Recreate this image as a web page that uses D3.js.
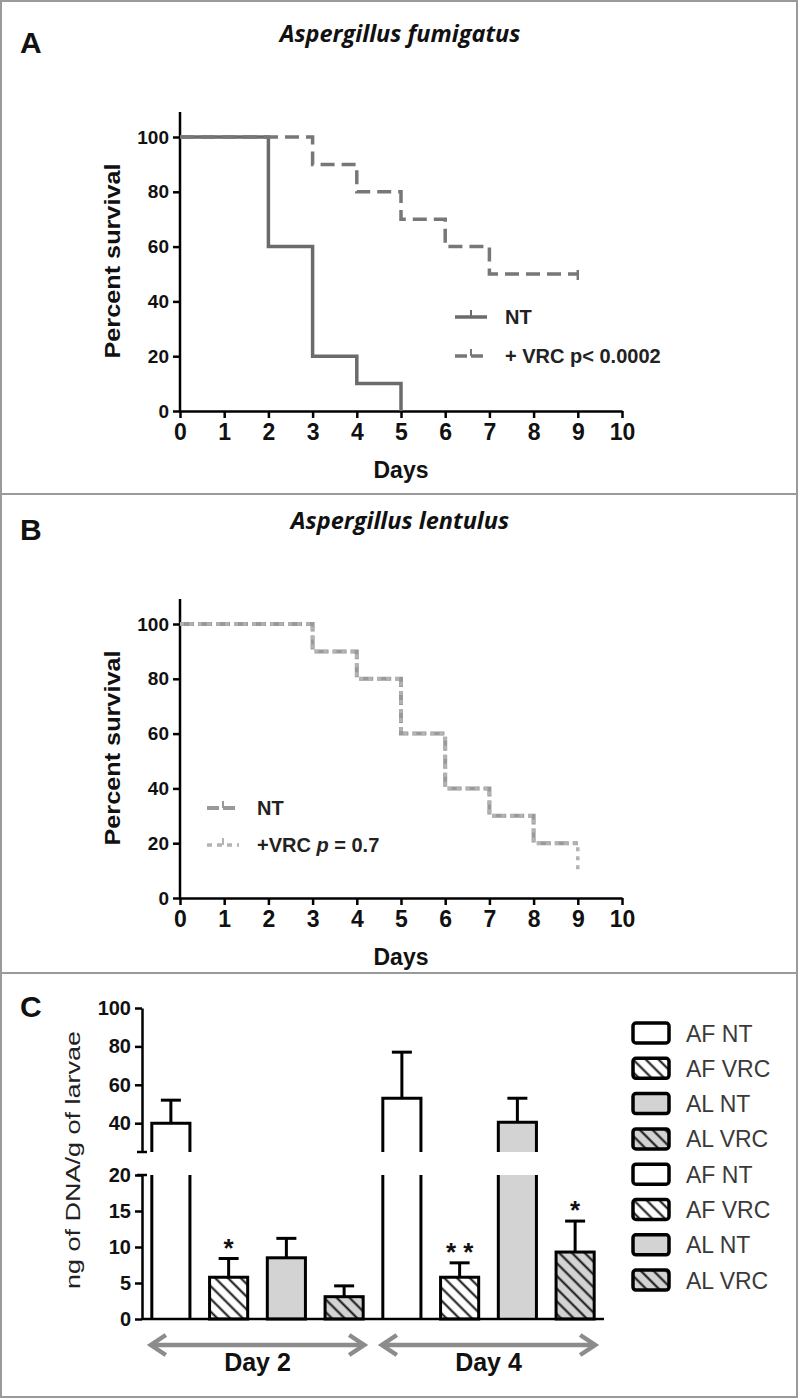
<!DOCTYPE html>
<html><head><meta charset="utf-8">
<script src="https://cdn.jsdelivr.net/npm/d3@7"></script>
<style>body{margin:0;background:#fff} svg{display:block}</style>
</head><body><svg id="c" width="799" height="1399"></svg>
<script>
// ---------- DATA ----------
const days = [0,1,2,3,4,5,6,7,8,9,10];
const survTicks = [0,20,40,60,80,100];
// Panel A: Aspergillus fumigatus
const afNTTimes  = [0,2,3,4,5];
const afNTSurv   = [100,60,20,10,0];
const afVRCTimes = [0,3,4,5,6,7,9];
const afVRCSurv  = [100,90,80,70,60,50,50];
// Panel B: Aspergillus lentulus
const alNTTimes  = [0,3,4,5,6,7,8,9];
const alNTSurv   = [100,90,80,60,40,30,20,20];
const alVRCTimes = [0,3,4,5,6,7,8,9];
const alVRCSurv  = [100,90,80,60,40,30,20,10];
// Panel C: fungal burden
const barGroups  = ["Day 2","Day 4"];
const barSeries  = ["AF NT","AF VRC","AL NT","AL VRC"];
const barMeans   = [[40,5.8,8.5,3.1],[53,5.8,40.5,9.3]];
const barUpper   = [[52,8.4,11.2,4.6],[77,7.8,53,13.6]];
const barStars   = [["","*","",""],["","**","","*"]];
const lowTicks   = [0,5,10,15,20];
const highTicks  = [40,60,80,100];
const legendLabels = ["AF NT","AF VRC","AL NT","AL VRC","AF NT","AF VRC","AL NT","AL VRC"];

// ---------- SETUP ----------
const svg = d3.select("#c");
const BOLD = "'Liberation Sans', Arial, sans-serif";
const NARROW = "'Liberation Sans Narrow', 'Liberation Sans', Arial, sans-serif";

const defs = svg.append("defs");
defs.append("pattern").attr("id","hatch").attr("patternUnits","userSpaceOnUse")
  .attr("width",9).attr("height",9).attr("patternTransform","rotate(-45)")
  .append("line").attr("x1",4.5).attr("y1",-1).attr("x2",4.5).attr("y2",10)
  .attr("stroke","#111").attr("stroke-width",2);

// frame
svg.append("rect").attr("x",1).attr("y",1).attr("width",796).attr("height",1396)
  .attr("fill","none").attr("stroke","#9a9a9a").attr("stroke-width",2);
[494,973].forEach(y=>svg.append("line").attr("x1",1).attr("x2",797).attr("y1",y).attr("y2",y)
  .attr("stroke","#9a9a9a").attr("stroke-width",2));

// ---------- SURVIVAL PANELS ----------
function survivalPanel(o){
  const g = svg.append("g");
  const x = d3.scaleLinear().domain([0,10]).range([180,622]);
  const y = d3.scaleLinear().domain([0,100]).range([o.y0, o.y0-274]);
  g.append("text").attr("x",20).attr("y",o.y0-358).text(o.letter)
    .attr("font-family",BOLD).attr("font-weight","bold").attr("font-size",30).attr("fill","#111");
  g.append("text").attr("x",400).attr("y",o.y0-369).attr("text-anchor","middle").text(o.title)
    .attr("font-family","'Open Sans', sans-serif").attr("font-style","italic").attr("font-weight","bold")
    .attr("font-size",23.5).attr("fill","#111");
  // axes
  const ya = g.append("g").attr("transform","translate(180,0)")
    .call(d3.axisLeft(y).tickValues(survTicks).tickSize(7).tickSizeOuter(0).tickPadding(4));
  ya.select(".domain").remove();
  g.append("line").attr("x1",180).attr("x2",180).attr("y1",o.y0-299).attr("y2",o.y0)
    .attr("stroke","#000").attr("stroke-width",2.5);
  const xa = g.append("g").attr("transform",`translate(0,${o.y0})`)
    .call(d3.axisBottom(x).tickValues(days).tickSize(7).tickSizeOuter(0).tickPadding(6));
  xa.select(".domain").attr("stroke-width",2.5);
  [ya,xa].forEach(a=>a.selectAll(".tick line").attr("stroke-width",2.5));
  ya.selectAll("text").attr("font-family",BOLD).attr("font-weight","bold").attr("font-size",19).attr("fill","#111");
  xa.selectAll("text").attr("font-family",NARROW).attr("font-weight","bold").attr("font-size",23).attr("fill","#111");
  g.append("text").attr("x",401).attr("y",o.y0+67).attr("text-anchor","middle").text("Days")
    .attr("font-family",BOLD).attr("font-weight","bold").attr("font-size",23).attr("fill","#111");
  g.append("text").attr("transform",`translate(120,${o.y0-150}) rotate(-90)`).attr("text-anchor","middle")
    .text("Percent survival").attr("font-family",BOLD).attr("font-weight","bold").attr("font-size",22)
    .attr("textLength",195).attr("lengthAdjust","spacingAndGlyphs").attr("fill","#111");
  // curves
  const line = d3.line().x(d=>x(d[0])).y(d=>y(d[1])).curve(d3.curveStepAfter);
  o.series.forEach(s=>{
    const pts = s.t.map((t,i)=>[t,s.v[i]]);
    g.append("path").attr("d",line(pts)).attr("fill","none").attr("stroke",s.color)
      .attr("stroke-width",s.w).attr("stroke-dasharray",s.dash);
    if (s.censor) {
      const last = pts[pts.length-1];
      g.append("line").attr("x1",x(last[0])).attr("x2",x(last[0])).attr("y1",y(last[1])-4).attr("y2",y(last[1])+6)
        .attr("stroke",s.color).attr("stroke-width",2.5);
    }
  });
  // legend
  o.series.forEach((s,i)=>{
    const ly = o.legY + i*o.legGap;
    g.append("line").attr("x1",o.legX).attr("x2",o.legX+32).attr("y1",ly).attr("y2",ly)
      .attr("stroke",s.color).attr("stroke-width",s.w).attr("stroke-dasharray",s.legDash);
    g.append("line").attr("x1",o.legX+16).attr("x2",o.legX+16).attr("y1",ly-7).attr("y2",ly)
      .attr("stroke",s.color).attr("stroke-width",2);
    const t = g.append("text").attr("x",o.legX+50).attr("y",ly+7)
      .attr("font-family",NARROW).attr("font-weight","bold").attr("font-size",20).attr("fill","#222");
    s.label.forEach(p=>t.append("tspan").text(p.t).attr("font-style",p.i?"italic":null));
  });
}

survivalPanel({
  letter:"A", title:"Aspergillus fumigatus", y0:411, legX:455, legY:317, legGap:39,
  series:[
    {t:afNTTimes, v:afNTSurv, color:"#6b6b6b", w:3.5, dash:null, legDash:null, label:[{t:"NT"}]},
    {t:afVRCTimes, v:afVRCSurv, color:"#777", w:3.5, dash:"14,7", legDash:"12,4", censor:true,
     label:[{t:"+ VRC p< 0.0002"}]}
  ]
});
survivalPanel({
  letter:"B", title:"Aspergillus lentulus", y0:898, legX:207, legY:808, legGap:37,
  series:[
    {t:alNTTimes, v:alNTSurv, color:"#999", w:4, dash:"14,4", legDash:"12,4", label:[{t:"NT"}]},
    {t:alVRCTimes, v:alVRCSurv, color:"#b3b3b3", w:3.5, dash:"4,5", legDash:"5,5",
     label:[{t:"+VRC  "},{t:"p",i:true},{t:" = 0.7"}]}
  ]
});

// ---------- BAR PANEL C ----------
const gc = svg.append("g");
gc.append("text").attr("x",20).attr("y",1017).text("C")
  .attr("font-family",BOLD).attr("font-weight","bold").attr("font-size",30).attr("fill","#111");
const nBars = barGroups.length*barSeries.length;
const xC = d3.scaleBand().domain(d3.range(nBars)).range([142,604]).paddingInner(0.34).paddingOuter(0.17);
const yLow = d3.scaleLinear().domain([0,20]).range([1319,1175]);
const yHigh = d3.scaleLinear().domain([25,100]).range([1152,1008]);
const fills = ["#fff","#fff","#d3d3d3","#d3d3d3"];
const hatched = [false,true,false,true];
const bw = xC.bandwidth();

const bars = [];
barGroups.forEach((gname,gi)=>barSeries.forEach((s,si)=>bars.push({
  i:gi*barSeries.length+si, si, v:barMeans[gi][si], e:barUpper[gi][si], star:barStars[gi][si]})));

const yv = v => v<=20 ? yLow(v) : yHigh(v);
bars.forEach(b=>{
  const x0 = xC(b.i), x1 = x0+bw;
  const drawFill = (ya,yb)=>{
    gc.append("rect").attr("x",x0).attr("y",ya).attr("width",bw).attr("height",yb-ya).attr("fill",fills[b.si]);
    if (hatched[b.si]) gc.append("rect").attr("x",x0).attr("y",ya).attr("width",bw).attr("height",yb-ya).attr("fill","url(#hatch)");
  };
  const top = yv(b.v), et = yv(b.e);
  gc.append("line").attr("x1",x0+bw/2).attr("x2",x0+bw/2).attr("y1",top).attr("y2",et).attr("stroke","#000").attr("stroke-width",3);
  gc.append("line").attr("x1",x0+bw/2-10).attr("x2",x0+bw/2+10).attr("y1",et).attr("y2",et).attr("stroke","#000").attr("stroke-width",3);
  if (b.v<=20){
    drawFill(yLow(b.v), yLow(0));
    gc.append("rect").attr("x",x0).attr("y",yLow(b.v)).attr("width",bw).attr("height",yLow(0)-yLow(b.v))
      .attr("fill","none").attr("stroke","#000").attr("stroke-width",3);
  } else {
    drawFill(yLow(20), yLow(0));
    drawFill(yHigh(b.v), yHigh(25));
    gc.append("path").attr("d",`M${x0},${yLow(0)}V${yLow(20)}M${x1},${yLow(20)}V${yLow(0)}`)
      .attr("fill","none").attr("stroke","#000").attr("stroke-width",3);
    gc.append("path").attr("d",`M${x0},${yHigh(25)}V${yHigh(b.v)}H${x1}V${yHigh(25)}`)
      .attr("fill","none").attr("stroke","#000").attr("stroke-width",3);
  }
  if (b.star) gc.append("text").attr("x",x0+bw/2).attr("y",et-2).attr("text-anchor","middle").text(b.star.split("").join(" "))
    .attr("font-family",BOLD).attr("font-weight","bold").attr("font-size",26).attr("fill","#111");
});

// y axes (broken)
function cAxis(scale, ticks, capY){
  const a = gc.append("g").attr("transform","translate(142,0)")
    .call(d3.axisLeft(scale).tickValues(ticks).tickSize(7).tickSizeOuter(0).tickPadding(4));
  a.select(".domain").attr("stroke-width",2.5);
  a.selectAll(".tick line").attr("stroke-width",2.5);
  a.selectAll("text").attr("font-family",BOLD).attr("font-weight","bold").attr("font-size",20).attr("fill","#111");
  gc.append("line").attr("x1",137).attr("x2",147).attr("y1",capY).attr("y2",capY).attr("stroke","#000").attr("stroke-width",2.5);
}
cAxis(yLow, lowTicks, yLow(20));
cAxis(yHigh, highTicks, yHigh(25));
gc.append("line").attr("x1",142).attr("x2",604).attr("y1",yLow(0)).attr("y2",yLow(0)).attr("stroke","#000").attr("stroke-width",2.5);
gc.append("text").attr("transform","translate(80,1160) rotate(-90)").attr("text-anchor","middle")
  .text("ng of DNA/g of larvae").attr("font-family",BOLD).attr("font-size",21)
  .attr("textLength",258).attr("lengthAdjust","spacingAndGlyphs").attr("fill","#222");

// group arrows
barGroups.forEach((gname,gi)=>{
  const a = xC(gi*4)-1, b = xC(gi*4+3)+bw+1, y = 1345;
  gc.append("line").attr("x1",a+2).attr("x2",b-2).attr("y1",y).attr("y2",y).attr("stroke","#8c8c8c").attr("stroke-width",4.5);
  gc.append("path").attr("d",`M${a+15},${y-10}L${a},${y}L${a+15},${y+10}M${b-15},${y-10}L${b},${y}L${b-15},${y+10}`)
    .attr("fill","none").attr("stroke","#8c8c8c").attr("stroke-width",4.5).attr("stroke-linejoin","miter");
  gc.append("text").attr("x",(a+b)/2).attr("y",1371).attr("text-anchor","middle").text(gname)
    .attr("font-family",BOLD).attr("font-weight","bold").attr("font-size",25).attr("fill","#111");
});

// legend C
legendLabels.forEach((lab,i)=>{
  const si = i % barSeries.length, y = 1033 + i*35.3;
  const r = {x:633, y:y-10, w:36, h:20};
  gc.append("rect").attr("x",r.x).attr("y",r.y).attr("width",r.w).attr("height",r.h).attr("rx",3).attr("fill",fills[si]);
  if (hatched[si]) gc.append("rect").attr("x",r.x).attr("y",r.y).attr("width",r.w).attr("height",r.h).attr("rx",3).attr("fill","url(#hatch)");
  gc.append("rect").attr("x",r.x).attr("y",r.y).attr("width",r.w).attr("height",r.h).attr("rx",3)
    .attr("fill","none").attr("stroke","#000").attr("stroke-width",3.5);
  gc.append("text").attr("x",686).attr("y",y+8.5).text(lab)
    .attr("font-family",BOLD).attr("font-size",23).attr("fill","#3a3a3a");
});
</script></body></html>
